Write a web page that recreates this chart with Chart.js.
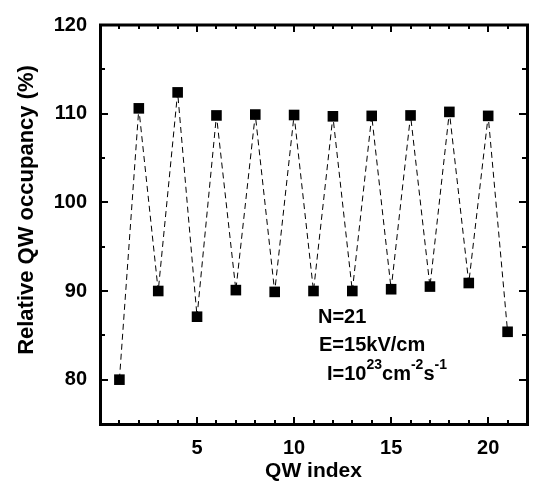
<!DOCTYPE html>
<html>
<head>
<meta charset="utf-8">
<script src="https://cdn.jsdelivr.net/npm/chart.js@4"></script>
<style>
  html, body { margin: 0; padding: 0; background: #fff; }
  #wrap { width: 536px; height: 487px; }
</style>
</head>
<body>
<div id="wrap"><canvas id="qwChart" width="536" height="487"></canvas></div>
<script>
// QW index (1..21) and relative occupancy values
const qwIndex = [1, 2, 3, 4, 5, 6, 7, 8, 9, 10, 11, 12, 13, 14, 15, 16, 17, 18, 19, 20, 21];
const occupancy = [80.0, 110.6, 90.0, 112.4, 87.1, 109.8, 90.1, 109.9, 89.9, 109.85, 90.0,
                   109.7, 90.0, 109.75, 90.2, 109.8, 90.5, 110.2, 90.9, 109.75, 85.4];
const xTickLabels = [5, 10, 15, 20];
const yTickLabels = [80, 90, 100, 110, 120];
const yTitle = 'Relative QW occupancy (%)';
const annotationLines = ['N=21', 'E=15kV/cm'];

const FONT = 'Liberation Sans, Arial, Helvetica, sans-serif';

// frame + inward tick marks on all four sides, y title and the parameter box text
const framePlugin = {
    id: 'frame',
    afterDraw(chart) {
        const ctx = chart.ctx;
        const { left, right, top, bottom } = chart.chartArea;
        const xs = chart.scales.x, ys = chart.scales.y;
        ctx.save();
        ctx.strokeStyle = '#000';
        ctx.lineWidth = 3;
        ctx.strokeRect(left + 0.5, top, right - left, bottom - top + 0.5);

        ctx.lineWidth = 2;
        for (let v = 1; v <= 21; v++) {
            const len = v % 5 === 0 ? 7 : 4;
            const px = Math.round(xs.getPixelForValue(v));
            ctx.beginPath();
            ctx.moveTo(px, bottom); ctx.lineTo(px, bottom - len);
            ctx.moveTo(px, top); ctx.lineTo(px, top + len);
            ctx.stroke();
        }
        for (let v = 80; v < 120; v += 5) {
            const len = v % 10 === 0 ? 8 : 5;
            const py = Math.round(ys.getPixelForValue(v));
            ctx.beginPath();
            ctx.moveTo(left, py); ctx.lineTo(left + len, py);
            ctx.moveTo(right, py); ctx.lineTo(right - len, py);
            ctx.stroke();
        }

        ctx.fillStyle = '#000';

        // y axis title
        ctx.save();
        ctx.translate(27, 210);
        ctx.rotate(-Math.PI / 2);
        ctx.font = 'bold 22px ' + FONT;
        ctx.textAlign = 'center';
        ctx.textBaseline = 'middle';
        ctx.fillText(yTitle, 0, 0);
        ctx.restore();

        // annotation
        ctx.textBaseline = 'alphabetic';
        ctx.textAlign = 'left';
        const big = 'bold 20px ' + FONT;
        const small = 'bold 14px ' + FONT;
        ctx.font = big;
        ctx.fillText(annotationLines[0], 318, 323);
        ctx.fillText(annotationLines[1], 319, 351);

        // I=10^23 cm^-2 s^-1
        let x = 327;
        const base = 380, sup = 369;
        const parts = [['I=10', big, base], ['23', small, sup], ['cm', big, base],
                       ['-2', small, sup], ['s', big, base], ['-1', small, sup]];
        parts.forEach(([t, f, y]) => {
            ctx.font = f;
            ctx.fillText(t, x, y);
            x += ctx.measureText(t).width;
        });
        ctx.restore();
    }
};

new Chart(document.getElementById('qwChart'), {
    type: 'scatter',
    data: {
        datasets: [{
            data: qwIndex.map((q, i) => ({ x: q, y: occupancy[i] })),
            showLine: true,
            borderColor: '#000',
            borderWidth: 1,
            borderDash: [6, 4],
            backgroundColor: '#000',
            pointStyle: 'rect',
            pointRadius: 7.5,
            pointBorderWidth: 0,
        }],
    },
    options: {
        responsive: false,
        animation: false,
        layout: { padding: { left: 0, right: 9, top: 12, bottom: 0 } },
        plugins: {
            legend: { display: false },
            tooltip: { enabled: false },
        },
        scales: {
            x: {
                type: 'linear',
                min: 0,
                max: 22,
                afterBuildTicks: (s) => { s.ticks = xTickLabels.map(v => ({ value: v })); },
                afterFit: (s) => { s.height = 63; },
                grid: { display: false, drawTicks: false },
                border: { display: false },
                ticks: { color: '#000', padding: 12, font: { family: FONT, size: 20, weight: 'bold' } },
                title: {
                    display: true,
                    text: 'QW index',
                    color: '#000',
                    padding: { top: 0, bottom: 3 },
                    font: { family: FONT, size: 21, weight: 'bold' },
                },
            },
            y: {
                min: 75,
                max: 120,
                afterBuildTicks: (s) => { s.ticks = yTickLabels.map(v => ({ value: v })); },
                afterFit: (s) => { s.width = 100; },
                grid: { display: false, drawTicks: false },
                border: { display: false },
                ticks: { color: '#000', padding: 13, font: { family: FONT, size: 20, weight: 'bold' } },
                title: { display: false },
            },
        },
    },
    plugins: [framePlugin],
});
</script>
</body>
</html>
